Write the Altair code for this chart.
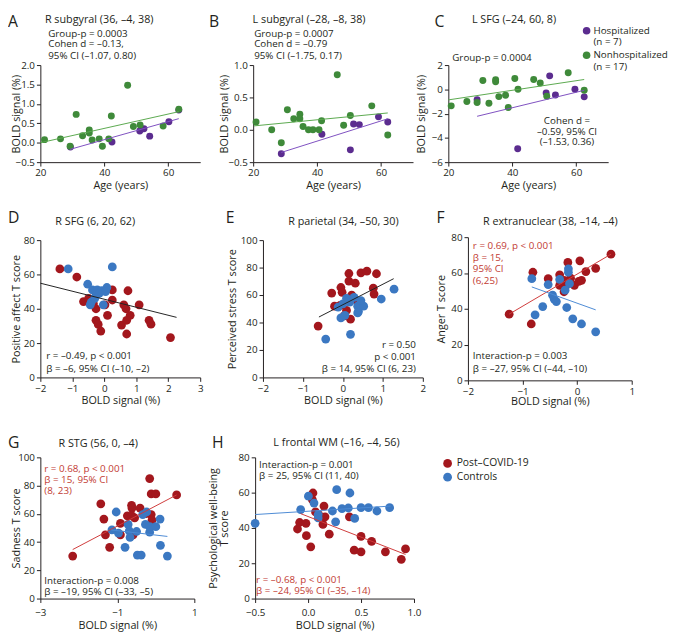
import altair as alt
import pandas as pd

# ---------------- colours / fonts ----------------
FONT = "Open Sans"
INK = "#231f20"
PURPLE, GREEN = "#5b2c8f", "#3f8a3a"
PURPLE_LINE, GREEN_LINE = "#7d4fc0", "#5aa84e"
RED, BLUE = "#a3171d", "#3b78c2"
RED_LINE, BLUE_LINE = "#cf3a3a", "#4b8ad4"
RED_TEXT = "#c23b33"

# ---------------- data: row 1 (age vs BOLD) ----------------
HOSP = ["Hospitalized", "Nonhospitalized"]
A_hosp_age = [29.4, 42.4, 51.1, 52.4, 54.2, 60.2, 63.3]
A_hosp_bold = [-0.11, 0.02, 0.30, 0.36, 0.17, 0.54, 0.84]
A_non_age = [21.3, 26.3, 29.3, 31.2, 33.2, 35.3, 35.3, 36.2, 38.4, 39.4, 41.4, 42.2, 47.3, 49.1, 51.2, 58.4, 63.3]
A_non_bold = [0.08, 0.10, -0.09, 0.73, 0.18, 0.33, 0.25, 0.07, 0.10, -0.09, 0.10, 0.69, 1.48, 0.42, 0.46, 0.43, 0.86]
A_fit_hosp = ([29.3, 63.3], [-0.17, 0.62])
A_fit_non = ([20.0, 63.3], [0.00, 0.80])

B_hosp_age = [28.8, 41.5, 50.4, 51.4, 53.2, 59.2, 62.1]
B_hosp_bold = [-0.37, -0.07, -0.31, 0.09, 0.08, 0.20, 0.12]
B_non_age = [20.9, 25.8, 28.8, 30.7, 32.7, 34.6, 34.6, 35.6, 37.3, 38.7, 40.6, 41.4, 46.3, 48.3, 50.4, 57.1, 62.1]
B_non_bold = [0.12, 0.00, -0.20, 0.31, 0.17, 0.24, 0.17, 0.05, 0.00, 0.00, 0.00, 0.14, 0.85, 0.07, 0.22, 0.37, -0.08]
B_fit_hosp = ([28.8, 62.1], [-0.35, 0.17])
B_fit_non = ([20.2, 62.1], [0.06, 0.26])

C_hosp_age = [29.0, 41.7, 51.7, 50.6, 53.5, 59.6, 62.5]
C_hosp_bold = [-0.86, -4.9, 1.11, -0.30, -0.46, 0.00, -0.62]
C_non_age = [20.9, 25.8, 29.0, 30.8, 32.7, 34.8, 34.8, 35.8, 37.9, 38.75, 40.8, 41.8, 46.7, 48.75, 50.8, 57.5, 62.5]
C_non_bold = [-1.36, -1.0, -1.08, 0.73, -1.14, 0.79, 0.63, -0.60, -0.49, -1.49, 0.89, 0.00, 0.81, 0.52, -0.57, 1.36, -0.08]
C_fit_hosp = ([29.0, 62.5], [-2.22, -0.08])
C_fit_non = ([20.0, 62.5], [-0.87, 0.81])

# ---------------- data: rows 2-3 (BOLD vs T score) ----------------
COHORT = ["Post\u2013COVID-19", "Controls"]
D_pc_x = [-1.39, -0.86, -0.65, -0.49, -0.34, -0.26, -0.26, -0.19, -0.11, 0.10, 0.02, 0.25, 0.25, 0.61, 0.74, 0.68, 0.81, 0.54, 0.70, 0.70, 1.09, 1.40, 1.46, 2.07]
D_pc_y = [63.2, 58.5, 44.2, 46.1, 42.9, 40.0, 33.3, 30.9, 27.0, 36.2, 42.3, 45.1, 51.0, 42.3, 50.5, 40.0, 36.2, 30.5, 33.3, 25.3, 42.3, 33.3, 31.0, 23.2]
D_hc_x = [-1.13, 0.25, -0.52, -0.37, -0.22, -0.08, 0.08, -0.41, -0.44, -0.03, -0.26, -0.16, 0.04, -0.30]
D_hc_y = [63.2, 64.4, 54.3, 51.0, 51.0, 50.5, 52.4, 43.8, 42.3, 42.3, 47.6, 49.0, 50.0, 46.0]
D_fit = ([-2.0, 2.26], [54.9, 35.0])

E_pc_x = [-0.62, -0.28, -0.21, -0.05, -0.02, 0.15, 0.15, 0.31, 0.22, 0.45, 0.60, 0.84, 0.76, 0.78, 0.09, 0.03, 0.19, 0.37, -0.07]
E_pc_y = [37.4, 61.4, 51.9, 65.5, 62.0, 75.7, 70.2, 68.6, 60.0, 76.2, 77.4, 75.5, 65.0, 60.7, 48.8, 44.8, 42.4, 54.8, 52.4]
E_hc_x = [-0.43, 0.19, -0.05, 0.05, -0.12, 0.00, 0.17, 0.28, 0.37, 0.39, 0.52, 0.45, 0.37, 0.96, 1.28, 0.09]
E_hc_y = [27.9, 31.4, 43.3, 45.2, 51.2, 53.6, 54.8, 58.3, 51.9, 48.1, 51.9, 56.0, 47.0, 57.1, 64.3, 57.6]
E_fit = ([-0.60, 1.27], [44.0, 71.9])

F_pc_x = [-1.245, -0.84, -0.81, -0.53, -0.32, -0.24, -0.17, 0.05, -0.22, -0.12, -0.05, 0.03, 0.08, 0.16, 0.34, 0.62, -0.32, -0.24]
F_pc_y = [37.0, 31.5, 60.4, 56.8, 59.0, 55.9, 65.9, 66.8, 52.2, 57.1, 53.1, 55.3, 55.9, 60.8, 62.6, 70.5, 53.1, 49.5]
F_hc_x = [-0.83, -0.53, -0.45, -0.42, -0.38, -0.63, -0.77, -0.32, -0.16, -0.16, -0.14, -0.22, -0.19, -0.08, 0.08, 0.34]
F_hc_y = [56.8, 53.5, 47.6, 45.4, 44.0, 41.2, 36.6, 56.4, 62.3, 60.4, 54.0, 50.4, 40.7, 34.4, 31.5, 27.1]
F_fit_pc = ([-1.245, 0.62], [37.0, 70.5])
F_fit_hc = ([-0.83, 0.34], [52.2, 39.4])

G_pc_x = [-2.16, -1.43, -1.35, -1.31, -1.20, -0.92, -0.92, -0.74, -0.63, -0.62, -0.41, -0.62, -0.55, -0.16, -0.12, 0.00, -0.26, -0.12, -0.10, -0.59, 0.54]
G_pc_y = [30.1, 67.1, 56.3, 45.1, 36.3, 53.2, 45.1, 58.6, 66.0, 64.1, 64.1, 58.6, 57.2, 85.0, 74.1, 74.1, 60.2, 59.5, 55.6, 45.1, 73.4]
G_hc_x = [-1.14, -1.03, -0.97, -0.80, -0.72, -0.69, -0.67, -0.50, -0.48, -0.38, -0.27, -0.24, -0.16, -0.16, 0.00, 0.11, 0.12, 0.30, -0.34]
G_hc_y = [48.6, 61.3, 46.3, 36.3, 52.5, 47.9, 43.3, 47.5, 30.8, 30.8, 52.5, 61.3, 47.0, 50.9, 50.9, 56.3, 37.7, 30.1, 59.5]
G_fit_pc = ([-2.16, 0.54], [34.7, 73.4])
G_fit_hc = ([-1.16, 0.30], [48.6, 44.0])

H_pc_x = [-0.10, -0.08, -0.02, -0.016, 0.025, 0.046, 0.04, 0.07, 0.10, 0.14, 0.16, 0.15, 0.20, 0.39, 0.435, 0.50, 0.50, 0.60, 0.73, 0.88, 0.92]
H_pc_y = [39.4, 43.1, 42.6, 35.6, 29.3, 59.8, 56.1, 49.1, 47.6, 42.0, 46.3, 52.4, 36.5, 46.3, 27.4, 35.2, 26.5, 32.4, 26.5, 22.2, 28.1]
H_hc_x = [-0.50, -0.07, 0.003, 0.056, 0.095, 0.095, 0.23, 0.26, 0.27, 0.32, 0.38, 0.395, 0.44, 0.50, 0.57, 0.65, 0.77]
H_hc_y = [42.6, 50.4, 58.0, 54.1, 47.6, 45.7, 49.6, 43.5, 61.7, 50.9, 51.3, 59.8, 45.4, 51.5, 51.5, 49.6, 51.5]
H_fit_hc = ([-0.50, 0.78], [47.6, 52.4])
H_fit_pc = ([-0.07, 0.92], [48.1, 25.0])


# ---------------- helpers ----------------
def pts_df(groups):
    rows = []
    for lab, xs, ys in groups:
        for x, y in zip(xs, ys):
            rows.append({"x": x, "y": y, "g": lab})
    return pd.DataFrame(rows)


def txt(s, x, y, align="left", color=INK, size=10):
    return alt.Chart(alt.Data(values=[{"k": 0}])).mark_text(
        text=s, align=align, baseline="middle", font=FONT, fontSize=size, color=color
    ).encode(x=alt.value(x), y=alt.value(y))


def panel(groups, cdomain, crange, fits, w, h, xdom, xticks, xfmt, xtitle,
          ydom, yticks, yfmt, ytitle, size, texts, legend=None,
          ytx=-24, xty=24, xlabpad=2, extra=0):
    """w = plotted width; extra = blank room kept to the right of the plot."""
    df = pts_df(groups)
    xax = alt.Axis(values=xticks, format=xfmt, title=xtitle, titleX=w / 2, titleY=xty,
                   titleBaseline="middle", titleAlign="center", labelFlush=False,
                   labelPadding=xlabpad, labelOverlap=False, labelSeparation=0)
    yax = alt.Axis(values=yticks, format=yfmt, title=ytitle, titleX=ytx, titleY=h / 2,
                   titleAngle=270, titleAlign="center", titleBaseline="middle",
                   labelFlush=False, labelOverlap=False, labelSeparation=0)
    X = alt.X("x:Q", scale=alt.Scale(domain=xdom, range=[0, w], nice=False, zero=False), axis=xax)
    Y = alt.Y("y:Q", scale=alt.Scale(domain=ydom, nice=False, zero=False), axis=yax)
    pts = alt.Chart(df).mark_circle(size=size, opacity=1).encode(
        x=X, y=Y,
        color=alt.Color("g:N", scale=alt.Scale(domain=cdomain, range=crange), legend=legend),
    )
    layers = [pts]
    for (lx, ly), col in fits:
        layers.append(alt.Chart(pd.DataFrame({"x": lx, "y": ly}))
                      .mark_line(color=col, strokeWidth=1)
                      .encode(x=X, y=Y))
    for t in texts:
        layers.append(txt(*t))
    return alt.layer(*layers).properties(width=w + extra, height=h)


LET = 16   # panel letter size
TIT = 11   # panel title size

# ---------------- row 1 ----------------
age_ticks = [20, 40, 60]
A = panel([(HOSP[0], A_hosp_age, A_hosp_bold), (HOSP[1], A_non_age, A_non_bold)],
          HOSP, [PURPLE, GREEN], [(A_fit_hosp, PURPLE_LINE), (A_fit_non, GREEN_LINE)],
          163, 99, [20, 70], age_ticks, "d", "Age (years)",
          [-0.5, 2.0], [-0.5, 0, 0.5, 1.0, 1.5, 2.0], ".1f", "BOLD signal (%)", 50,
          [("A", -33, -44, "left", INK, LET),
           ("R subgyral (36, \u20134, 38)", 60, -46, "center", INK, TIT),
           ("Group-p = 0.0003", 8, -32), ("Cohen d = \u20130.13,", 8, -21),
           ("95% CI (\u20131.07, 0.80)", 8, -9)], extra=42)

B = panel([(HOSP[0], B_hosp_age, B_hosp_bold), (HOSP[1], B_non_age, B_non_bold)],
          HOSP, [PURPLE, GREEN], [(B_fit_hosp, PURPLE_LINE), (B_fit_non, GREEN_LINE)],
          163, 99, [20, 70], age_ticks, "d", "Age (years)",
          [-0.5, 1.0], [-0.5, 0, 0.5, 1.0], ".1f", "BOLD signal (%)", 50,
          [("B", -45, -44, "left", INK, LET),
           ("L subgyral (\u201328, \u20138, 38)", 57, -46, "center", INK, TIT),
           ("Group-p = 0.0007", 1, -32), ("Cohen d = \u20130.79", 1, -21),
           ("95% CI (\u20131.75, 0.17)", 1, -9)], ytx=-29, extra=24)

C_legend = alt.Legend(orient="none", legendX=136, legendY=-40, title=None,
                      symbolType="circle", symbolSize=60, symbolStrokeWidth=0,
                      symbolOpacity=1, labelFont=FONT, labelFontSize=10, labelColor=INK,
                      labelOffset=2, rowPadding=3, padding=0,
                      labelExpr="datum.label == 'Hospitalized' ? ['Hospitalized', '(n = 7)'] : ['Nonhospitalized', '(n = 17)']")
C = panel([(HOSP[0], C_hosp_age, C_hosp_bold), (HOSP[1], C_non_age, C_non_bold)],
          HOSP, [PURPLE, GREEN], [(C_fit_hosp, PURPLE_LINE), (C_fit_non, GREEN_LINE)],
          163, 99, [20, 70], age_ticks, "d", "Age (years)",
          [-6, 2], [-6, -4, -2, 0, 2], "d", "BOLD signal (%)", 50,
          [("C", -14, -44, "left", INK, LET),
           ("L SFG (\u201324, 60, 8)", 67, -46, "center", INK, TIT),
           ("Group-p = 0.0004", 4, -7),
           ("Cohen d =", 121, 57, "center"), ("\u20130.59, 95% CI", 121, 68, "center"),
           ("(\u20131.53, 0.36)", 121, 79, "center")],
          legend=C_legend, ytx=-27)

# ---------------- row 2 ----------------
bold = "BOLD signal (%)"
D = panel([(COHORT[0], D_pc_x, D_pc_y), (COHORT[1], D_hc_x, D_hc_y)],
          COHORT, [RED, BLUE], [(D_fit, "#222222")],
          163, 140, [-2, 3], [-2, -1, 0, 1, 2, 3], "d", bold,
          [0, 80], [0, 20, 40, 60, 80], "d", "Positive affect T score", 80,
          [("D", -33, -22, "left", INK, LET),
           ("R SFG (6, 20, 62)", 56, -18, "center", INK, TIT),
           ("r = \u20130.49, p < 0.001", 6, 118), ("\u03b2 = \u20136, 95% CI (\u201310, \u20132)", 6, 131)],
          extra=52)

E = panel([(COHORT[0], E_pc_x, E_pc_y), (COHORT[1], E_hc_x, E_hc_y)],
          COHORT, [RED, BLUE], [(E_fit, "#222222")],
          163, 140, [-2, 2], [-2, -1, 0, 1, 2], "d", bold,
          [0, 100], [0, 20, 40, 60, 80, 100], "d", "Perceived stress T score", 80,
          [("E", -38, -22, "left", INK, LET),
           ("R parietal (34, \u201350, 30)", 82, -18, "center", INK, TIT),
           ("r = 0.50", 156, 107, "right"), ("p < 0.001", 156, 119, "right"),
           ("\u03b2 = 14, 95% CI (6, 23)", 156, 131, "right")], ytx=-31, extra=34)

F = panel([(COHORT[0], F_pc_x, F_pc_y), (COHORT[1], F_hc_x, F_hc_y)],
          COHORT, [RED, BLUE], [(F_fit_pc, RED_LINE), (F_fit_hc, BLUE_LINE)],
          167, 146, [-2, 1], [-2, -1, 0, 1], "d", bold,
          [0, 80], [0, 20, 40, 60, 80], "d", "Anger T score", 80,
          [("F", -32, -19, "left", INK, LET),
           ("R extranuclear (38, \u201314, \u20134)", 84, -15, "center", INK, TIT),
           ("r = 0.69, p < 0.001", 5, 9, "left", RED_TEXT), ("\u03b2 = 15,", 5, 21, "left", RED_TEXT),
           ("95% CI", 5, 33, "left", RED_TEXT), ("(6,25)", 5, 45, "left", RED_TEXT),
           ("Interaction-p = 0.003", 5, 121), ("\u03b2 = \u201327, 95% CI (\u201344, \u201310)", 5, 134)],
          ytx=-27, xty=22)

# ---------------- row 3 ----------------
G = panel([(COHORT[0], G_pc_x, G_pc_y), (COHORT[1], G_hc_x, G_hc_y)],
          COHORT, [RED, BLUE], [(G_fit_pc, RED_LINE), (G_fit_hc, BLUE_LINE)],
          157, 144, [-3, 1], [-3, -1, 1], "d", bold,
          [0, 100], [0, 20, 40, 60, 80, 100], "d", "Sadness T score", 80,
          [("G", -33, -15, "left", INK, LET),
           ("R STG (56, 0, \u20134)", 59, -14, "center", INK, TIT),
           ("r = 0.68, p < 0.001", 4, 12, "left", RED_TEXT),
           ("\u03b2 = 15, 95% CI", 4, 23, "left", RED_TEXT), ("(8, 23)", 4, 34, "left", RED_TEXT),
           ("Interaction-p = 0.008", 4, 126), ("\u03b2 = \u201319, 95% CI (\u201333, \u20135)", 4, 137)],
          xty=28, xlabpad=5, extra=50)

H_legend = alt.Legend(orient="none", legendX=191, legendY=1, title=None,
                      symbolType="circle", symbolSize=80, symbolStrokeWidth=0,
                      symbolOpacity=1, labelFont=FONT, labelFontSize=10.5, labelColor=INK,
                      labelOffset=4, rowPadding=3, padding=0)
H = panel([(COHORT[0], H_pc_x, H_pc_y), (COHORT[1], H_hc_x, H_hc_y)],
          COHORT, [RED, BLUE], [(H_fit_hc, BLUE_LINE), (H_fit_pc, RED_LINE)],
          162, 144, [-0.5, 1.0], [-0.5, 0, 0.5, 1.0], ".1f", bold,
          [0, 80], [0, 20, 40, 60, 80], "d", ["Psychological well-being", "T score"], 80,
          [("H", -44, -15, "left", INK, LET),
           ("L frontal WM (\u201316, \u20134, 56)", 83, -15, "center", INK, TIT),
           ("Interaction-p = 0.001", 4, 8), ("\u03b2 = 25, 95% CI (11, 40)", 4, 19),
           ("r = \u20130.68, p < 0.001", 1, 125, "left", RED_TEXT),
           ("\u03b2 = \u201324, 95% CI (\u201335, \u201314)", 1, 136, "left", RED_TEXT)],
          legend=H_legend, ytx=-42, xty=28, xlabpad=5)

# ---------------- layout ----------------
row1 = alt.hconcat(A, B, C, spacing=12, bounds="flush").resolve_scale(color="independent")
row2 = alt.hconcat(D, E, F, spacing=12, bounds="flush", center=True).resolve_scale(color="independent")
row3 = alt.hconcat(G, H, spacing=12, bounds="flush").resolve_scale(color="independent")

lower = alt.vconcat(row2, row3, spacing=28.5).resolve_scale(color="independent")
chart = alt.vconcat(row1, lower, spacing=20.5).resolve_scale(color="independent").properties(
    padding=0
).configure_axis(
    labelFont=FONT, labelFontSize=10, labelColor=INK, titleFont=FONT, titleFontSize=11,
    titleFontWeight="normal", titleColor=INK, domainColor=INK, tickColor=INK,
    tickSize=4, grid=False, labelPadding=2, titleLineHeight=11,
    labelOverlap=False, labelSeparation=0,
).configure_view(stroke=None)

chart.save("out.html", embed_options={"renderer": "svg", "actions": False})
